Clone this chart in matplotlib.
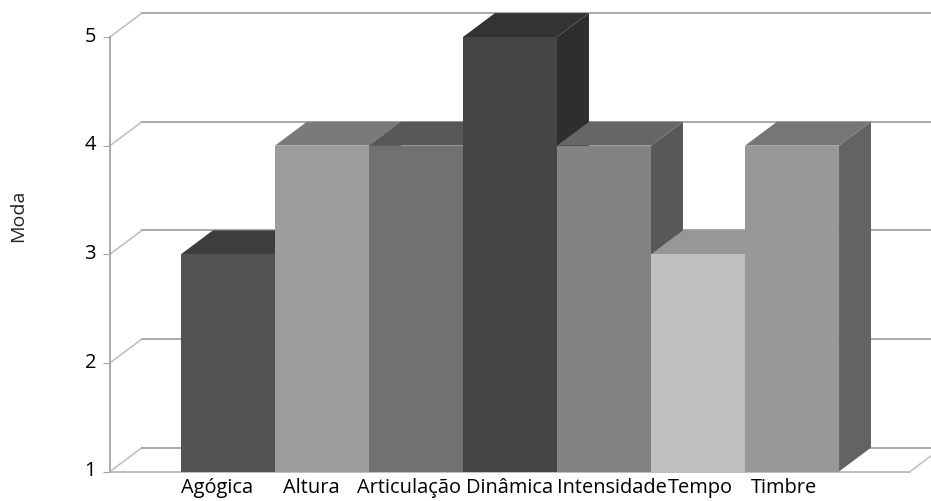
import matplotlib.pyplot as plt
from matplotlib.patches import Polygon
from matplotlib.transforms import ScaledTranslation

plt.rcParams['font.family'] = ['Open Sans', 'DejaVu Sans']

categories = ['Agógica', 'Altura', 'Articulação', 'Dinâmica', 'Intensidade', 'Tempo', 'Timbre']
values = [3, 4, 4, 5, 4, 3, 4]
yticks = [1, 2, 3, 4, 5]
front_colors = ['#535353', '#9c9c9c', '#717171', '#454545', '#828382', '#c0c0c0', '#989898']
top_colors = ['#3c3e3c', '#7a7a7a', '#585858', '#333333', '#666666', '#979797', '#767676']
side_colors = ['#3a3a3a', '#6e6e6e', '#505050', '#2e2e2e', '#585858', '#8a8a8a', '#636363']
# labels do not sit under the bar centres in the original
label_pos = [-0.117, 0.883, 1.925, 3.0, 4.085, 5.02, 5.915]

# depth of the 3d effect, in data units
dx = 0.34
dy = 0.22

fig = plt.figure(figsize=(9.31, 5.01), dpi=100)
ax = fig.add_axes([110/931, 1-471.5/501, 800/931, 434.5/501])
ax.set_xlim(-1.255, 7.255)
ax.set_ylim(1, 5)

x_left, x_right = ax.get_xlim()
grid = '#a4a4a4'

# gridlines with the slanted part on the left wall
for t in yticks:
    ax.plot([x_left, x_left + dx], [t, t + dy], color='#bdbdbd', lw=1.1, clip_on=False, zorder=1)
    ax.plot([x_left + dx, x_right + dx], [t + dy, t + dy], color=grid, lw=1.3, clip_on=False, zorder=1)
ax.plot([x_left, x_left], [1, 5], color=grid, lw=1.3, zorder=1, clip_on=False)
ax.plot([x_left, x_right], [1, 1], color='#b4b4b4', lw=1.2, zorder=1, clip_on=False)
ax.plot([x_right, x_right + dx], [1, 1 + dy], color='#bdbdbd', lw=1.1, zorder=1, clip_on=False)

# bars, drawn left to right so each one covers the side of the previous one
for i, v in enumerate(values):
    l = i - 0.5
    r = i + 0.5
    ax.add_patch(Polygon([(r, 1), (r + dx, 1 + dy), (r + dx, v + dy), (r, v)],
                         closed=True, fc=side_colors[i], ec='none', zorder=3 + i, clip_on=False))
    ax.add_patch(Polygon([(l, v), (l + dx, v + dy), (r + dx, v + dy), (r, v)],
                         closed=True, fc=top_colors[i], ec='none', zorder=3 + i, clip_on=False))
    ax.bar(i, v - 1, bottom=1, width=1.0, color=front_colors[i], zorder=3 + i, clip_on=False)

for s in ax.spines.values():
    s.set_visible(False)

ax.set_yticks(yticks)
ax.set_yticklabels([str(t) for t in yticks], fontsize=14.5)
ax.tick_params(axis='y', length=5, color=grid, pad=5)
# digits sit a little above their ticks
shift = ScaledTranslation(0, 2/72, fig.dpi_scale_trans)
for lab in ax.get_yticklabels():
    lab.set_transform(lab.get_transform() + shift)
ax.set_xticks(label_pos)
ax.set_xticklabels(categories, fontsize=14.4)
ax.tick_params(axis='x', length=0, pad=5)
fig.text(18/931, 1-216/501, 'Moda', rotation=90, fontsize=14, ha='center', va='center', color='#222222')

fig.savefig('out.png', dpi=100)
